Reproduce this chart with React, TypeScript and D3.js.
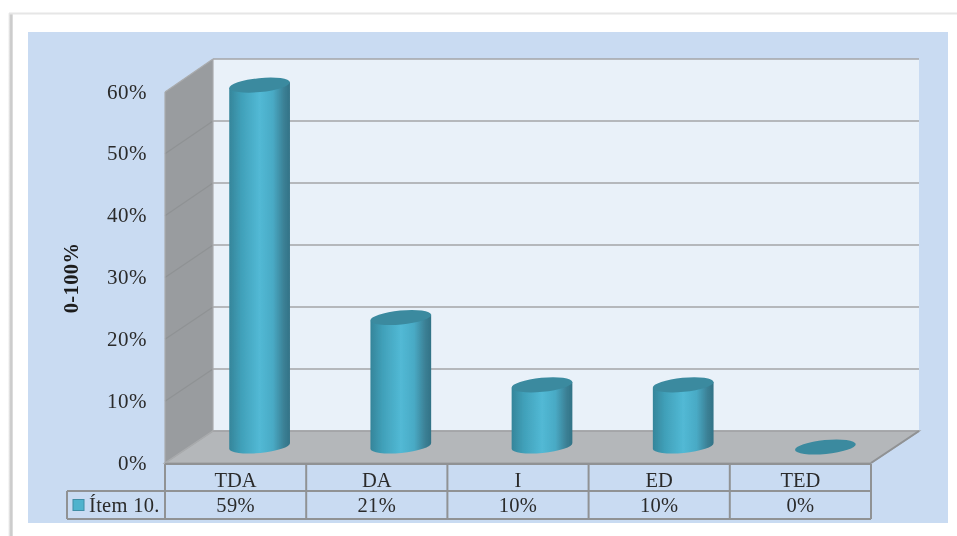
import React from "react";
import * as d3 from "d3";

const categories = ["TDA", "DA", "I", "ED", "TED"];
const values = [59, 21, 10, 10, 0];
const valueLabels = ["59%", "21%", "10%", "10%", "0%"];
const yTicks = [0, 10, 20, 30, 40, 50, 60];
const seriesName = "Ítem 10.";
const axisTitle = "0-100%";

const W = 957, H = 536;
const depthX = 48;
const frontL = 165, frontR = 871;
const yFront = d3.scaleLinear().domain([0, 60]).range([463, 92]);
const yBack = d3.scaleLinear().domain([0, 60]).range([431, 59]);
const yBar = d3.scaleLinear().domain([0, 60]).range([446, 79]);
const x = d3.scaleBand<string>().domain(categories).range([frontL, frontR]);
const RX = 30.5, RY = 7;
const TILT = -5.5;
const SERIF = "'Liberation Serif', serif";
const ink = "#2b2b2b", lineC = "#909294", gridC = "#a3a5a7";

function tilted(cx: number, cy: number, sign: number) {
  const t = (TILT * Math.PI) / 180;
  return { x: cx + sign * RX * Math.cos(t), y: cy + sign * RX * Math.sin(t) };
}

function Cylinder({ cat, v }: { cat: string; v: number }) {
  const cx = x(cat)! + x.bandwidth() / 2 + 24;
  const base = yBar(0), top = yBar(v);
  const capCx = v === 0 ? cx + 1 : cx;
  const capCy = v === 0 ? 447 : top;
  const tl = tilted(cx, top, -1), tr = tilted(cx, top, 1);
  const bl = tilted(cx, base, -1), br = tilted(cx, base, 1);
  const body = `M${tl.x},${tl.y} L${bl.x},${bl.y} A${RX},${RY} ${TILT} 0 0 ${br.x},${br.y} L${tr.x},${tr.y} Z`;
  return (
    <g>
      {v > 0 && <path d={body} fill="url(#cyl)" />}
      <ellipse cx={capCx} cy={capCy} rx={RX} ry={RY} fill="#3a8a9f"
        transform={`rotate(${TILT} ${capCx} ${capCy})`} />
    </g>
  );
}

export default function App() {
  const wallL = frontL + depthX, wallR = frontR + depthX;
  const rowTop = 464, rowMid = 491, rowBot = 519, legendL = 67;
  return (
    <svg width={W} height={H} viewBox={`0 0 ${W} ${H}`}
      style={{ position: "absolute", left: 0, top: 0, display: "block" }}>
      <defs>
        <linearGradient id="cyl" x1="0" x2="1" y1="0" y2="0">
          <stop offset="0" stopColor="#35859a" />
          <stop offset="0.2" stopColor="#40a0b9" />
          <stop offset="0.5" stopColor="#52b9d5" />
          <stop offset="0.72" stopColor="#49aac5" />
          <stop offset="0.9" stopColor="#3b8095" />
          <stop offset="1" stopColor="#327286" />
        </linearGradient>
        <linearGradient id="shadeL" x1="0" x2="1" y1="0" y2="0">
          <stop offset="0" stopColor="#ffffff" />
          <stop offset="0.6" stopColor="#c4c4c4" />
          <stop offset="1" stopColor="#e4e4e4" />
        </linearGradient>
        <filter id="soft" x="0" y="0" width="100%" height="100%">
          <feGaussianBlur stdDeviation="0.5" />
        </filter>
      </defs>
      <rect width={W} height={H} fill="#ffffff" />
      <g filter="url(#soft)">
        <rect x={8} y={13} width={5} height={H - 13} fill="url(#shadeL)" />
        <rect x={9} y={12.5} width={W - 9} height={2} fill="#e6e6e6" />
        <rect x={28} y={32} width={920} height={491} fill="#c9dbf2" />

        {/* back wall */}
        <rect x={wallL} y={yBack(60)} width={wallR - wallL} height={yBack(0) - yBack(60)} fill="#e9f1f9" />
        {/* side wall */}
        <polygon points={`${frontL},${yFront(0)} ${wallL},${yBack(0)} ${wallL},${yBack(60)} ${frontL},${yFront(60)}`} fill="#999c9f" />
        {/* floor */}
        <polygon points={`${frontL},${yFront(0)} ${frontR},${yFront(0)} ${wallR},${yBack(0)} ${wallL},${yBack(0)}`}
          fill="#b4b7ba" stroke={gridC} strokeWidth={1.5} />
        {/* gridlines */}
        {yTicks.map((t) => (
          <g key={t} stroke={gridC} strokeWidth={1.7} fill="none">
            <line x1={wallL} x2={wallR} y1={yBack(t)} y2={yBack(t)} />
            <line x1={frontL} x2={wallL} y1={yFront(t)} y2={yBack(t)} stroke={t === 60 || t === 0 ? "#a9abad" : "#8f9294"} strokeWidth={1.2} />
          </g>
        ))}
        <line x1={frontL} x2={frontL} y1={yFront(60)} y2={yFront(0)} stroke="#a9abad" strokeWidth={1.2} />
        <line x1={wallL} x2={wallL} y1={yBack(60)} y2={yBack(0)} stroke="#a9abad" strokeWidth={1.2} />

        {/* cylinders */}
        {categories.map((c, i) => <Cylinder key={c} cat={c} v={values[i]} />)}

        {/* y ticks */}
        {yTicks.map((t) => (
          <text key={t} x={147} y={yFront(t) + 6.5} textAnchor="end" fontFamily={SERIF} fontSize={21}
            letterSpacing={0.5} fill={ink}>{t}%</text>
        ))}
        <text transform="translate(78,278) rotate(-90)" textAnchor="middle" fontFamily={SERIF} fontSize={20.5}
          fontWeight="bold" letterSpacing={0.4} fill="#1a1a1a">{axisTitle}</text>

        {/* data table */}
        <g stroke={lineC} strokeWidth={2} fill="none">
          <line x1={frontL} x2={frontR} y1={rowTop} y2={rowTop} />
          <line x1={legendL} x2={frontR} y1={rowMid} y2={rowMid} />
          <line x1={legendL} x2={frontR} y1={rowBot} y2={rowBot} />
          <line x1={legendL} x2={legendL} y1={rowMid} y2={rowBot} />
          {[frontL, ...categories.map((c) => x(c)! + x.bandwidth())].map((px) => (
            <line key={px} x1={px} x2={px} y1={rowTop} y2={rowBot} />
          ))}
          <line x1={frontR} x2={wallR} y1={yFront(0)} y2={yBack(0)} />
        </g>
        {categories.map((c, i) => (
          <g key={c} fontFamily={SERIF} fontSize={20.5} fill={ink} textAnchor="middle">
            <text x={x(c)! + x.bandwidth() / 2} y={487}>{c}</text>
            <text x={x(c)! + x.bandwidth() / 2} y={512} letterSpacing={0.3}>{valueLabels[i]}</text>
          </g>
        ))}
        <rect x={73} y={499.5} width={11} height={11} fill="#4fb3cd" stroke="#3f8ea6" strokeWidth={1} />
        <text x={89} y={512} fontFamily={SERIF} fontSize={20.5} letterSpacing={0.3} fill={ink}>{seriesName}</text>
      </g>
    </svg>
  );
}
